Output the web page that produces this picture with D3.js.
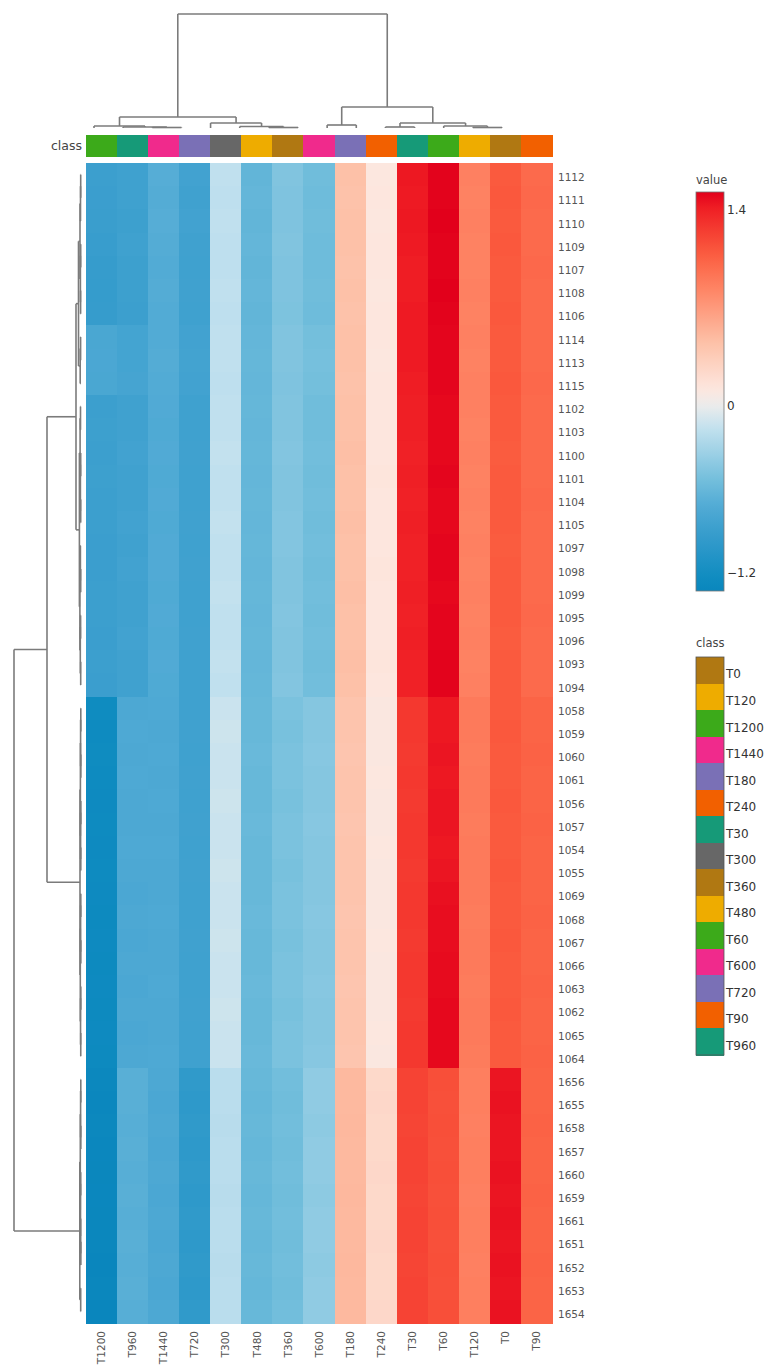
<!DOCTYPE html>
<html lang="en">
<head>
  <meta charset="UTF-8">
  <title>heatmap</title>
  <script src="https://cdn.jsdelivr.net/npm/d3@7/dist/d3.min.js"></script>
  <style>
    body { margin: 0; background: #fff; }
    text { font-family: "DejaVu Sans", Verdana, sans-serif; }
  </style>
</head>
<body>
  <div id="wrapper"></div>
  <script>
    // column order as drawn (after clustering)
    const columns = ['T1200','T960','T1440','T720','T300','T480','T360','T600','T180','T240','T30','T60','T120','T0','T90']

    const rowNames = ['1112','1111','1110','1109','1107','1108','1106','1114','1113','1115',
      '1102','1103','1100','1101','1104','1105','1097','1098','1099','1095','1096','1093','1094',
      '1058','1059','1060','1061','1056','1057','1054','1055','1069','1068','1067','1066','1063','1062','1065','1064',
      '1656','1655','1658','1657','1660','1659','1661','1651','1652','1653','1654']

    // one row per rowName, values in column order
    const values = [
      [-0.88,-0.86,-0.70,-0.84,-0.17,-0.63,-0.47,-0.55,0.45,0.11,1.44,1.52,0.86,1.10,1.00],
      [-0.89,-0.86,-0.71,-0.85,-0.18,-0.62,-0.48,-0.56,0.44,0.12,1.43,1.52,0.85,1.11,1.01],
      [-0.90,-0.87,-0.70,-0.84,-0.17,-0.63,-0.48,-0.55,0.45,0.11,1.44,1.53,0.86,1.10,1.00],
      [-0.91,-0.86,-0.71,-0.85,-0.18,-0.62,-0.47,-0.56,0.45,0.12,1.43,1.52,0.85,1.11,1.00],
      [-0.93,-0.87,-0.72,-0.86,-0.18,-0.63,-0.48,-0.56,0.44,0.12,1.42,1.52,0.85,1.10,1.01],
      [-0.94,-0.87,-0.71,-0.85,-0.17,-0.62,-0.48,-0.55,0.45,0.11,1.42,1.53,0.86,1.10,1.00],
      [-0.93,-0.88,-0.72,-0.86,-0.18,-0.63,-0.49,-0.56,0.44,0.12,1.43,1.52,0.85,1.11,1.00],
      [-0.78,-0.82,-0.72,-0.84,-0.17,-0.62,-0.47,-0.53,0.45,0.12,1.43,1.51,0.86,1.10,1.00],
      [-0.77,-0.82,-0.71,-0.83,-0.17,-0.61,-0.47,-0.52,0.45,0.11,1.43,1.51,0.85,1.10,1.00],
      [-0.78,-0.81,-0.72,-0.84,-0.18,-0.62,-0.48,-0.53,0.44,0.12,1.42,1.51,0.86,1.11,1.01],
      [-0.88,-0.85,-0.73,-0.86,-0.17,-0.61,-0.47,-0.55,0.45,0.12,1.41,1.50,0.86,1.10,1.00],
      [-0.87,-0.85,-0.74,-0.86,-0.17,-0.62,-0.47,-0.55,0.45,0.12,1.41,1.50,0.85,1.10,1.00],
      [-0.88,-0.84,-0.73,-0.85,-0.16,-0.61,-0.46,-0.54,0.46,0.12,1.40,1.50,0.86,1.09,1.00],
      [-0.87,-0.85,-0.74,-0.86,-0.17,-0.62,-0.47,-0.55,0.45,0.13,1.41,1.51,0.85,1.10,1.00],
      [-0.88,-0.85,-0.73,-0.86,-0.17,-0.61,-0.47,-0.54,0.45,0.12,1.40,1.50,0.86,1.10,1.01],
      [-0.88,-0.84,-0.74,-0.85,-0.16,-0.62,-0.46,-0.55,0.46,0.12,1.41,1.50,0.85,1.10,1.00],
      [-0.89,-0.85,-0.73,-0.86,-0.17,-0.61,-0.46,-0.54,0.45,0.12,1.40,1.51,0.86,1.09,1.00],
      [-0.89,-0.84,-0.73,-0.85,-0.17,-0.62,-0.47,-0.55,0.45,0.13,1.40,1.51,0.85,1.10,1.00],
      [-0.88,-0.85,-0.74,-0.86,-0.16,-0.61,-0.47,-0.54,0.46,0.12,1.41,1.50,0.86,1.10,1.00],
      [-0.88,-0.85,-0.73,-0.86,-0.17,-0.62,-0.46,-0.55,0.45,0.12,1.40,1.51,0.85,1.10,1.01],
      [-0.89,-0.84,-0.74,-0.85,-0.17,-0.61,-0.47,-0.54,0.45,0.12,1.41,1.51,0.86,1.09,1.00],
      [-0.88,-0.85,-0.73,-0.86,-0.16,-0.62,-0.47,-0.55,0.46,0.13,1.40,1.52,0.85,1.10,1.00],
      [-0.89,-0.85,-0.74,-0.86,-0.17,-0.61,-0.46,-0.54,0.45,0.12,1.40,1.52,0.86,1.10,1.00],
      [-1.24,-0.76,-0.75,-0.86,-0.13,-0.60,-0.50,-0.45,0.42,0.10,1.28,1.44,0.90,1.10,1.04],
      [-1.25,-0.75,-0.76,-0.85,-0.12,-0.60,-0.51,-0.45,0.42,0.10,1.28,1.44,0.90,1.11,1.04],
      [-1.24,-0.76,-0.75,-0.86,-0.13,-0.59,-0.50,-0.44,0.41,0.10,1.27,1.45,0.89,1.10,1.05],
      [-1.25,-0.75,-0.76,-0.85,-0.13,-0.60,-0.50,-0.45,0.42,0.11,1.28,1.44,0.90,1.10,1.04],
      [-1.26,-0.76,-0.75,-0.86,-0.12,-0.60,-0.51,-0.45,0.42,0.10,1.27,1.45,0.90,1.11,1.04],
      [-1.25,-0.76,-0.76,-0.85,-0.13,-0.59,-0.50,-0.44,0.41,0.10,1.28,1.45,0.89,1.10,1.05],
      [-1.26,-0.75,-0.75,-0.86,-0.13,-0.60,-0.50,-0.45,0.42,0.11,1.28,1.44,0.90,1.10,1.04],
      [-1.25,-0.76,-0.76,-0.85,-0.12,-0.60,-0.51,-0.45,0.42,0.10,1.27,1.45,0.90,1.11,1.04],
      [-1.26,-0.77,-0.76,-0.86,-0.13,-0.60,-0.50,-0.45,0.42,0.10,1.28,1.47,0.90,1.10,1.04],
      [-1.27,-0.76,-0.75,-0.86,-0.13,-0.59,-0.50,-0.44,0.41,0.10,1.28,1.48,0.89,1.10,1.05],
      [-1.26,-0.77,-0.76,-0.85,-0.12,-0.60,-0.51,-0.45,0.42,0.11,1.27,1.48,0.90,1.11,1.04],
      [-1.27,-0.76,-0.76,-0.86,-0.13,-0.60,-0.50,-0.45,0.42,0.10,1.28,1.49,0.90,1.10,1.04],
      [-1.26,-0.77,-0.75,-0.86,-0.13,-0.59,-0.50,-0.44,0.41,0.10,1.28,1.49,0.89,1.10,1.05],
      [-1.27,-0.76,-0.76,-0.85,-0.12,-0.60,-0.51,-0.45,0.42,0.10,1.27,1.50,0.90,1.11,1.04],
      [-1.26,-0.77,-0.76,-0.86,-0.13,-0.60,-0.50,-0.45,0.42,0.11,1.28,1.50,0.90,1.10,1.04],
      [-1.27,-0.76,-0.75,-0.86,-0.13,-0.59,-0.50,-0.44,0.41,0.10,1.28,1.50,0.89,1.10,1.05],
      [-1.30,-0.68,-0.76,-0.98,-0.20,-0.60,-0.54,-0.40,0.50,0.24,1.22,1.16,0.87,1.45,1.04],
      [-1.31,-0.68,-0.77,-0.99,-0.20,-0.61,-0.55,-0.40,0.50,0.25,1.22,1.15,0.87,1.46,1.04],
      [-1.30,-0.69,-0.76,-0.98,-0.21,-0.60,-0.54,-0.41,0.51,0.24,1.21,1.16,0.86,1.45,1.05],
      [-1.31,-0.68,-0.77,-0.99,-0.20,-0.61,-0.55,-0.40,0.50,0.24,1.22,1.15,0.87,1.45,1.04],
      [-1.32,-0.69,-0.76,-0.98,-0.20,-0.60,-0.54,-0.40,0.50,0.25,1.22,1.16,0.87,1.46,1.04],
      [-1.31,-0.68,-0.77,-0.99,-0.21,-0.61,-0.55,-0.41,0.51,0.24,1.21,1.15,0.86,1.45,1.05],
      [-1.32,-0.69,-0.76,-0.98,-0.20,-0.60,-0.54,-0.40,0.50,0.24,1.22,1.16,0.87,1.46,1.04],
      [-1.32,-0.68,-0.77,-0.99,-0.20,-0.61,-0.55,-0.40,0.50,0.25,1.22,1.15,0.87,1.45,1.04],
      [-1.33,-0.69,-0.76,-0.98,-0.21,-0.60,-0.54,-0.41,0.51,0.24,1.21,1.16,0.86,1.46,1.05],
      [-1.32,-0.68,-0.77,-0.99,-0.20,-0.61,-0.55,-0.40,0.50,0.24,1.22,1.15,0.87,1.45,1.04],
      [-1.33,-0.69,-0.76,-0.98,-0.20,-0.60,-0.54,-0.40,0.50,0.25,1.22,1.16,0.87,1.46,1.04],
    ]

    const classLevels = ['T0','T120','T1200','T1440','T180','T240','T30','T300','T360','T480','T60','T600','T720','T90','T960']
    const colorTicks = [1.4, 0, -1.2]

    // dendrograms: [height, left, right], leaves are names
    const colTree = [114,
      [11,
        [2, 'T1200', [1, 'T960', [0.5, 'T1440', 'T720']]],
        [5, 'T300', [1.5, 'T480', [0.5, 'T360', 'T600']]]],
      [21,
        [3, 'T180', 'T240'],
        [5, [1, 'T30', 'T60'], [2, 'T120', [0.5, 'T0', 'T90']]]]]

    const rowTree = [67,
      [34,
        [5,
          [2.5,
            [1.0, [0.5, [0.3, '1112', '1111'], '1110'], [0.6, [0.3, '1109', '1107'], [0.4, '1108', '1106']]],
            [0.8, [0.4, '1114', '1113'], '1115']],
          [1.6,
            [0.9, [0.5, '1102', '1103'], [0.6, [0.3, '1100', '1101'], [0.3, '1104', '1105']]],
            [1.1, [0.6, '1097', [0.3, '1098', '1099']], [0.7, [0.4, '1095', '1096'], [0.3, '1093', '1094']]]]],
        [1.0,
          [0.6, [0.4, [0.2, '1058', '1059'], [0.2, '1060', '1061']], [0.4, [0.2, '1056', '1057'], [0.2, '1054', '1055']]],
          [0.7, [0.4, [0.2, '1069', '1068'], [0.2, '1067', '1066']], [0.45, [0.2, '1063', '1062'], [0.25, '1065', '1064']]]]],
      [1.2,
        [0.7, [0.4, [0.2, '1656', '1655'], [0.2, '1658', '1657']], [0.5, [0.3, '1660', '1659'], [0.3, '1661', [0.15, '1651', '1652']]]],
        [0.3, '1653', '1654']]]

    const dimensions = { width: 773, height: 1367 }

    const svg = d3.select('#wrapper')
      .append('svg')
        .attr('width', dimensions.width)
        .attr('height', dimensions.height)

    // scales
    const xScale = d3.scaleBand().domain(columns).range([86, 552])
    const yScale = d3.scaleBand().domain(rowNames).range([163, 1323])

    const allValues = values.flat()
    const [vMin, vMax] = d3.extent(allValues)

    const colorScale = d3.scaleLinear()
      .domain([-1.33, -1.25, -0.88, -0.72, -0.55, -0.17, 0, 0.12, 0.45, 0.85, 1.0, 1.1, 1.42, 1.53])
      .range(['#0a86bd','#0e8bc0','#3c9fce','#52abd5','#70bddb','#c0e0ee','#ececec','#fde6de','#fdc1a8','#fe8262','#fc6a4c','#fa5a3e','#ef1d24','#e2001b'])
      .clamp(true)

    const classColor = d3.scaleOrdinal()
      .domain(classLevels)
      .range(['#b07812','#eeac00','#3caa1a','#f02a8c','#7a70b6','#f26000','#169a78','#676767',
              '#b07812','#eeac00','#3caa1a','#f02a8c','#7a70b6','#f26000','#169a78'])

    // heatmap cells
    const cells = rowNames.flatMap((r, i) => columns.map((c, j) => ({ r, c, v: values[i][j] })))
    svg.append('g')
      .attr('shape-rendering', 'crispEdges')
      .selectAll('rect')
      .data(cells)
      .join('rect')
        .attr('x', d => xScale(d.c))
        .attr('y', d => yScale(d.r))
        .attr('width', xScale.bandwidth() + 0.5)
        .attr('height', yScale.bandwidth() + 0.5)
        .attr('fill', d => colorScale(d.v))

    // class side bar
    svg.append('g')
      .attr('shape-rendering', 'crispEdges')
      .selectAll('rect')
      .data(columns)
      .join('rect')
        .attr('x', d => xScale(d))
        .attr('y', 135)
        .attr('width', xScale.bandwidth() + 0.5)
        .attr('height', 22)
        .attr('fill', d => classColor(d))

    svg.append('text')
      .attr('x', 82).attr('y', 146)
      .attr('dy', '0.35em')
      .attr('text-anchor', 'end')
      .attr('font-size', 12.5)
      .attr('fill', '#444')
      .text('class')

    // row labels
    svg.append('g')
      .selectAll('text')
      .data(rowNames)
      .join('text')
        .attr('x', 558)
        .attr('y', d => yScale(d) + yScale.bandwidth() / 2 + 3)
        .attr('dy', '0.35em')
        .attr('font-size', 10.5)
        .attr('fill', '#555')
        .text(d => d)

    // column labels
    svg.append('g')
      .selectAll('text')
      .data(columns)
      .join('text')
        .attr('transform', d => `translate(${xScale(d) + xScale.bandwidth() / 2}, 1331) rotate(-90)`)
        .attr('dy', '0.35em')
        .attr('text-anchor', 'end')
        .attr('font-size', 10.5)
        .attr('fill', '#555')
        .text(d => d)

    // dendrogram helpers
    const layoutTree = (node, pos) => {
      if (typeof node === 'string') return { p: pos(node), h: 0 }
      const [h, a, b] = node
      const l = layoutTree(a, pos)
      const r = layoutTree(b, pos)
      return { p: (l.p + r.p) / 2, h, l, r }
    }
    const collectSegs = (n, segs) => {
      if (!n.l) return segs
      segs.push([n.l.p, n.h, n.r.p, n.h])
      segs.push([n.l.p, n.h, n.l.p, n.l.h])
      segs.push([n.r.p, n.h, n.r.p, n.r.h])
      collectSegs(n.l, segs)
      collectSegs(n.r, segs)
      return segs
    }

    // top dendrogram
    const colLeaf = d3.scalePoint().domain(columns).range([94, 502])
    const colHeight = d3.scaleLinear().domain([0, 114]).range([128, 14])
    const colSegs = collectSegs(layoutTree(colTree, colLeaf), [])
    svg.append('g')
      .selectAll('line')
      .data(colSegs)
      .join('line')
        .attr('x1', d => d[0]).attr('y1', d => colHeight(d[1]))
        .attr('x2', d => d[2]).attr('y2', d => colHeight(d[3]))
        .attr('stroke', '#7b7b7b')
        .attr('stroke-width', 1.6)

    // left dendrogram
    const rowLeaf = d => yScale(d) + yScale.bandwidth() / 2
    const rowHeight = d3.scaleLinear().domain([0, 67]).range([81, 14])
    const rowSegs = collectSegs(layoutTree(rowTree, rowLeaf), [])
    svg.append('g')
      .selectAll('line')
      .data(rowSegs)
      .join('line')
        .attr('y1', d => d[0]).attr('x1', d => rowHeight(d[1]))
        .attr('y2', d => d[2]).attr('x2', d => rowHeight(d[3]))
        .attr('stroke', '#7b7b7b')
        .attr('stroke-width', 1.6)

    // colour bar legend
    const barX = 696, barW = 28
    const barScale = d3.scaleLinear().domain([vMin, vMax]).range([591, 192])
    const grad = svg.append('defs').append('linearGradient')
      .attr('id', 'cbar')
      .attr('x1', 0).attr('y1', 1).attr('x2', 0).attr('y2', 0)
    d3.range(0, 1.0001, 0.02).forEach(t => {
      grad.append('stop')
        .attr('offset', t)
        .attr('stop-color', colorScale(vMin + t * (vMax - vMin)))
    })
    svg.append('text')
      .attr('x', barX).attr('y', 184)
      .attr('font-size', 11.5)
      .attr('fill', '#444')
      .text('value')
    svg.append('rect')
      .attr('x', barX).attr('y', barScale(vMax))
      .attr('width', barW)
      .attr('height', barScale(vMin) - barScale(vMax))
      .attr('fill', 'url(#cbar)')
      .attr('stroke', '#777')
      .attr('stroke-width', 0.8)
    const barAxis = svg.append('g')
      .attr('transform', `translate(${barX + barW}, 0)`)
      .call(d3.axisRight(barScale).tickValues(colorTicks).tickFormat(d3.format('~g')).tickSize(0).tickPadding(3))
    barAxis.select('.domain').remove()
    barAxis.selectAll('text')
      .attr('font-size', 12)
      .attr('fill', '#333')
      .style('font-family', '"DejaVu Sans", Verdana, sans-serif')

    // class legend
    const legY = d3.scaleBand().domain(classLevels).range([657, 1055])
    svg.append('text')
      .attr('x', barX).attr('y', 647)
      .attr('font-size', 11.5)
      .attr('fill', '#444')
      .text('class')
    svg.append('g')
      .attr('shape-rendering', 'crispEdges')
      .selectAll('rect')
      .data(classLevels)
      .join('rect')
        .attr('x', barX)
        .attr('y', d => legY(d))
        .attr('width', barW)
        .attr('height', legY.bandwidth() + 0.5)
        .attr('fill', d => classColor(d))
    svg.append('rect')
      .attr('x', barX).attr('y', 657)
      .attr('width', barW).attr('height', 1055 - 657)
      .attr('fill', 'none')
      .attr('stroke', '#555')
      .attr('stroke-width', 0.8)
    svg.append('g')
      .selectAll('text')
      .data(classLevels)
      .join('text')
        .attr('x', barX + barW + 2)
        .attr('y', d => legY(d) + legY.bandwidth() / 2 + 4)
        .attr('dy', '0.35em')
        .attr('font-size', 12)
        .attr('fill', '#333')
        .text(d => d)
  </script>
</body>
</html>
